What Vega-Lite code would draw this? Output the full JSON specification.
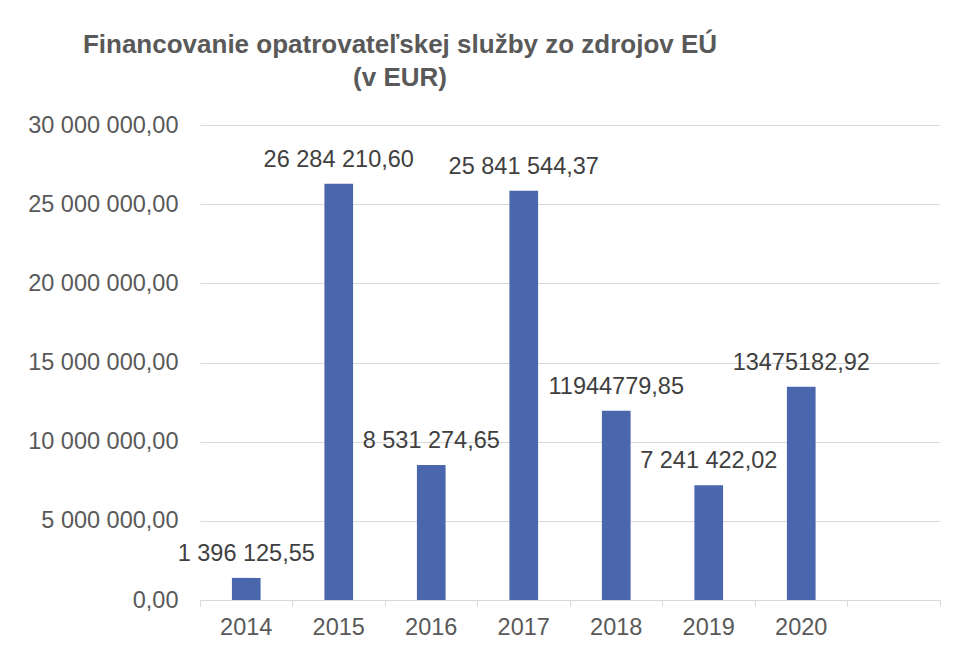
{
  "$schema": "https://vega.github.io/schema/vega-lite/v6.json",
  "autosize": "none",
  "width": 740,
  "height": 475,
  "padding": {"left": 200, "top": 125, "right": 18, "bottom": 50},
  "background": "white",
  "config": {
    "view": {"stroke": null},
    "font": "Liberation Sans",
    "locale": {
      "number": {"decimal": ",", "thousands": " ", "grouping": [3], "currency": ["", ""]}
    }
  },
  "title": {
    "text": ["Financovanie opatrovateľskej služby zo zdrojov EÚ", "(v EUR)"],
    "font": "Liberation Sans",
    "fontSize": 26,
    "fontWeight": "bold",
    "color": "#595959",
    "anchor": "middle",
    "frame": "group",
    "dx": -170,
    "offset": 22,
    "lineHeight": 33
  },
  "data": {
    "values": [
      {"rok": "2014", "suma": 1396125.55, "popis": "1 396 125,55"},
      {"rok": "2015", "suma": 26284210.60, "popis": "26 284 210,60"},
      {"rok": "2016", "suma": 8531274.65, "popis": "8 531 274,65"},
      {"rok": "2017", "suma": 25841544.37, "popis": "25 841 544,37"},
      {"rok": "2018", "suma": 11944779.85, "popis": "11944779,85"},
      {"rok": "2019", "suma": 7241422.02, "popis": "7 241 422,02"},
      {"rok": "2020", "suma": 13475182.92, "popis": "13475182,92"}
    ]
  },
  "encoding": {
    "x": {
      "field": "rok",
      "type": "nominal",
      "sort": null,
      "scale": {"domain": ["2014", "2015", "2016", "2017", "2018", "2019", "2020", " "], "paddingInner": 0, "paddingOuter": 0},
      "axis": {
        "title": null,
        "labelAngle": 0,
        "labelFont": "Liberation Sans",
        "labelFontSize": 23.5,
        "labelColor": "#595959",
        "labelPadding": 9,
        "domainColor": "#d9d9d9",
        "domainWidth": 1,
        "tickColor": "#d9d9d9",
        "tickSize": 6,
        "bandPosition": 1,
        "tickExtra": true,
        "grid": false
      }
    },
    "y": {
      "field": "suma",
      "type": "quantitative",
      "scale": {"domain": [0, 30000000], "nice": false},
      "axis": {
        "title": null,
        "values": [0, 5000000, 10000000, 15000000, 20000000, 25000000, 30000000],
        "format": ",.2f",
        "labelFont": "Liberation Sans",
        "labelFontSize": 23.5,
        "labelColor": "#595959",
        "labelPadding": 22,
        "ticks": false,
        "domain": false,
        "grid": true,
        "gridColor": "#d9d9d9",
        "gridWidth": 1
      }
    }
  },
  "layer": [
    {
      "mark": {"type": "bar", "color": "#4A66AC", "width": {"band": 0.31}}
    },
    {
      "mark": {"type": "text", "font": "Liberation Sans", "fontSize": 23.5, "color": "#404040", "baseline": "alphabetic", "align": "center", "dy": -17},
      "encoding": {"text": {"field": "popis"}}
    }
  ]
}
